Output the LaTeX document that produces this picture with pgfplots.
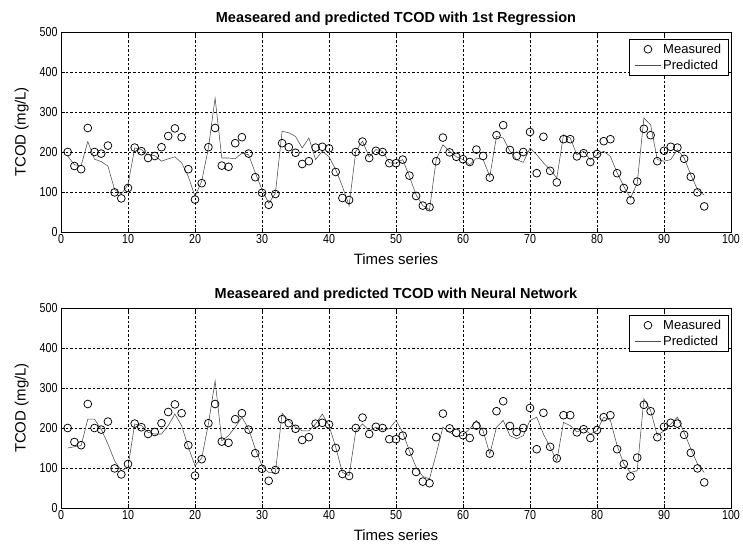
\documentclass[border=0pt]{standalone}
\usepackage{pgfplots}
\pgfplotsset{compat=1.18}
\usepackage{pgfplotstable}
\usepackage{fontspec}
\setmainfont{Liberation Sans}
\newfontfamily\narrowsans[FakeStretch=0.82]{Liberation Sans}

% Measured TCOD (mg/L) over the time series
\pgfplotstableread{
t   tcod
1   200
2   165
3   157
4   260
5   200
6   196
7   216
8   99
9   84
10  110
11  211
12  202
13  185
14  190
15  212
16  240
17  259
18  237
19  157
20  81
21  122
22  212
23  260
24  166
25  163
26  222
27  237
28  196
29  137
30  98
31  68
32  95
33  222
34  212
35  198
36  170
37  177
38  211
39  213
40  209
41  150
42  85
43  80
44  200
45  226
46  185
47  203
48  200
49  172
50  172
51  181
52  141
53  90
54  66
55  62
56  177
57  236
58  199
59  188
60  182
61  175
62  206
63  190
64  136
65  242
66  267
67  205
68  190
69  200
70  250
71  147
72  238
73  153
74  124
75  232
76  232
77  189
78  197
79  175
80  195
81  227
82  232
83  147
84  110
85  79
86  126
87  258
88  242
89  177
90  203
91  213
92  211
93  183
94  138
95  99
96  64
}\measured

% Prediction from the first-order regression model
\pgfplotstableread{
t   tcod
1   190
2   168
3   166
4   226
5   182
6   176
7   165
8   106
9   95
10  118
11  210
12  206
13  193
14  191
15  177
16  183
17  188
18  173
19  139
20  89
21  127
22  210
23  335
24  185
25  185
26  183
27  197
28  193
29  148
30  106
31  72
32  97
33  252
34  248
35  239
36  210
37  235
38  181
39  202
40  188
41  156
42  114
43  66
44  202
45  227
46  188
47  206
48  202
49  173
50  172
51  181
52  139
53  93
54  66
55  56
56  181
57  218
58  202
59  188
60  181
61  168
62  185
63  181
64  139
65  239
66  235
67  202
68  181
69  174
70  210
71  193
72  173
73  156
74  135
75  243
76  235
77  193
78  202
79  181
80  193
81  202
82  189
83  148
84  114
85  85
86  122
87  285
88  268
89  181
90  177
91  181
92  206
93  185
94  143
95  106
96  92
}\regression

% Prediction from the neural network model
\pgfplotstableread{
t   tcod
1   150
2   153
3   156
4   222
5   222
6   197
7   160
8   118
9   93
10  102
11  210
12  206
13  189
14  185
15  185
16  206
17  235
18  206
19  152
20  106
21  125
22  210
23  318
24  168
25  181
26  202
27  227
28  198
29  148
30  106
31  89
32  89
33  237
34  218
35  202
36  193
37  193
38  210
39  235
40  206
41  152
42  89
43  81
44  193
45  210
46  193
47  202
48  195
49  198
50  219
51  189
52  143
53  102
54  79
55  73
56  135
57  202
58  190
59  178
60  182
61  198
62  219
63  193
64  135
65  202
66  219
67  181
68  173
69  181
70  219
71  227
72  185
73  152
74  118
75  214
76  206
77  190
78  198
79  185
80  193
81  227
82  219
83  156
84  110
85  89
86  93
87  273
88  244
89  181
90  193
91  210
92  227
93  189
94  148
95  110
96  89
}\network

\pgfplotsset{
  tcodpanel/.style={
    scale only axis,
    width=670pt, height=200pt,
    anchor=south west,
    xmin=0, xmax=100, ymin=0, ymax=500,
    xtick={0,10,...,100}, ytick={0,100,...,500},
    grid=major,
    major grid style={black, line width=0.55pt, dash pattern=on 2.5pt off 2pt},
    axis line style={black, line width=0.7pt},
    tick align=inside, major tick length=4pt,
    tick style={black, line width=0.6pt},
    /pgf/number format/assume math mode=true,
    ticklabel style={font=\narrowsans\fontsize{13}{13}\selectfont},
    xticklabel style={yshift=1pt},
    label style={font=\fontsize{15}{15}\selectfont},
    xlabel={Times series},
    ylabel={TCOD (mg/L)},
    xlabel style={yshift=-3pt},
    ylabel style={yshift=4pt},
    title style={font=\bfseries\fontsize{14.5}{15}\selectfont, yshift=-3pt},
    legend cell align=left,
    legend style={
      at={(axis description cs:0.996,0.965)}, anchor=north east,
      draw=black, line width=0.6pt, fill=white,
      font=\fontsize{13}{13}\selectfont,
      inner xsep=5pt, inner ysep=2.5pt,
      row sep=1.5pt,
    },
  },
  measuredmarks/.style={only marks, mark=o, mark size=3.9pt,
    mark options={black, line width=0.75pt},
    legend image code/.code={\draw[##1] plot coordinates {(13pt,0pt)};}},
  predictedline/.style={no marks, color=black!70, line width=0.55pt,
    legend image code/.code={\draw[##1] (0pt,0pt) -- (26pt,0pt);}},
}

\begin{document}
\begin{tikzpicture}
\useasboundingbox (0pt,0pt) rectangle (743pt,548pt);

\begin{axis}[tcodpanel, at={(61pt,316pt)},
  title={Measeared and predicted TCOD with 1st Regression}]
  \addplot[measuredmarks] table[x=t, y=tcod] {\measured};
  \addplot[predictedline] table[x=t, y=tcod] {\regression};
  \legend{Measured, Predicted}
\end{axis}

\begin{axis}[tcodpanel, at={(61pt,40pt)},
  title={Measeared and predicted TCOD with Neural Network}]
  \addplot[measuredmarks] table[x=t, y=tcod] {\measured};
  \addplot[predictedline] table[x=t, y=tcod] {\network};
  \legend{Measured, Predicted}
\end{axis}
\end{tikzpicture}
\end{document}
